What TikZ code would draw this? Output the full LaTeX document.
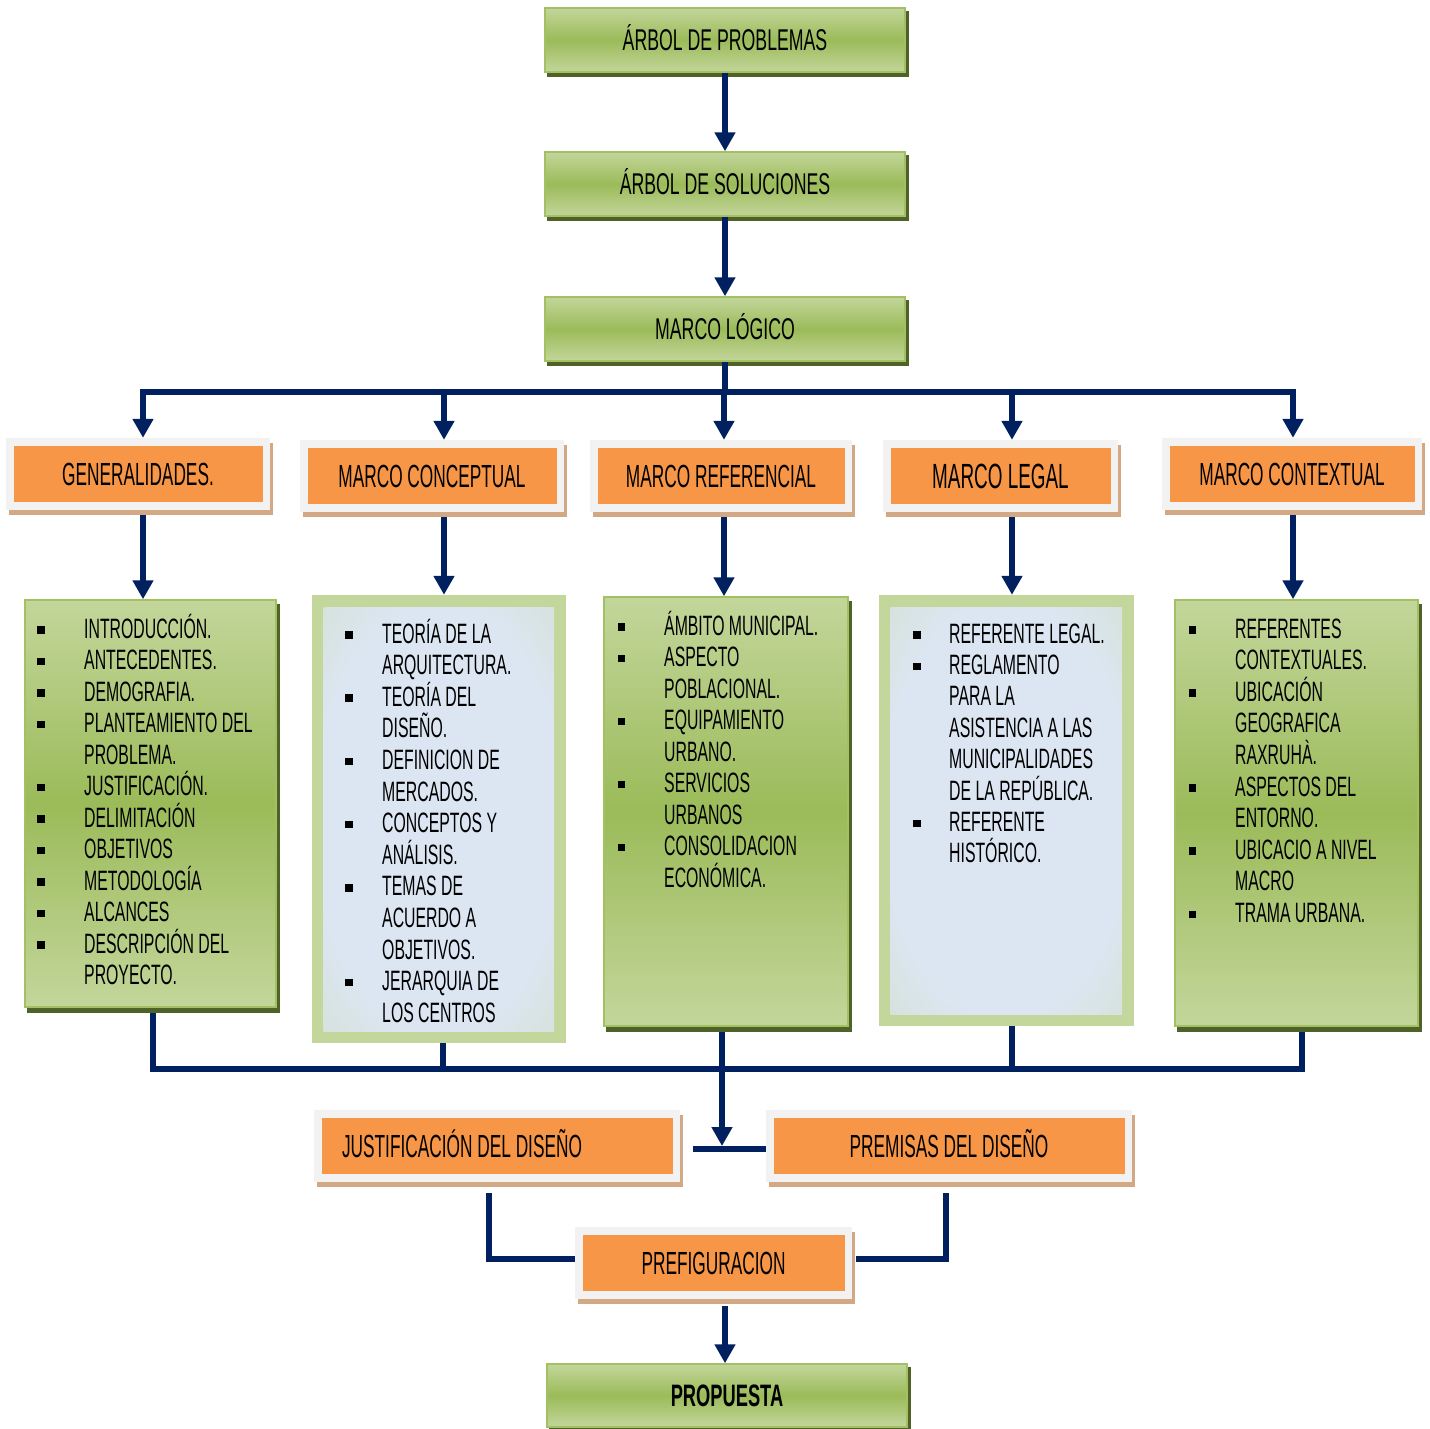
\documentclass[tikz,border=0pt]{standalone}
\usepackage{fontspec}
\setmainfont{Liberation Sans}
\newfontfamily\titlefont[FakeStretch=0.59]{Liberation Sans}
\newfontfamily\headfont[FakeStretch=0.54]{Liberation Sans}
\newfontfamily\listfont[FakeStretch=0.565]{Liberation Sans}
\usetikzlibrary{arrows.meta,backgrounds}

\definecolor{navy}{HTML}{002060}
\definecolor{orng}{HTML}{F79646}
\definecolor{framegray}{HTML}{F2F2F2}
\definecolor{tanshadow}{HTML}{D3A885}
\definecolor{glight}{HTML}{C3D69B}
\definecolor{gmid}{HTML}{9BBB59}
\definecolor{gedge}{HTML}{A3C163}
\definecolor{gdark}{HTML}{4F6228}
\definecolor{pale}{HTML}{DCE6F2}
\colorlet{palemix}{pale!50!glight}

\pgfdeclareradialshading{paleglow}{\pgfpointorigin}{%
  color(0bp)=(pale); color(24bp)=(pale); color(42bp)=(palemix); color(60bp)=(glight); color(71bp)=(glight)}

\tikzset{
  conn/.style={draw=navy, line width=6pt},
  arr/.style={conn, -{Triangle[width=20pt,length=19pt]}},
  greenbox/.style={draw=gedge, line width=1.5pt, top color=glight,
    bottom color=glight, middle color=gmid, inner sep=0pt},
  titlebox/.style={greenbox, minimum width=360pt, minimum height=64pt,
    font=\titlefont\fontsize{30pt}{33pt}\selectfont, text height=21.5pt, text depth=0pt},
  headbox/.style={fill=framegray, minimum width=#1, minimum height=72pt, inner sep=0pt,
    font=\headfont\fontsize{32pt}{36pt}\selectfont, text height=23pt, text depth=0pt,
    path picture={\fill[orng] ([shift={(7.5pt,-7.5pt)}]path picture bounding box.north west)
      rectangle ([shift={(-7.5pt,8pt)}]path picture bounding box.south east);}},
  palebox/.style={fill=glight, inner sep=0pt,
    path picture={\shade[shading=paleglow]
      ([shift={(11.5pt,-12pt)}]path picture bounding box.north west)
      rectangle ([shift={(-12pt,12pt)}]path picture bounding box.south east);}},
  item/.style={font=\listfont\fontsize{28pt}{30pt}\selectfont, inner sep=0pt, anchor=base west},
  bul/.style={fill=black, rectangle, minimum size=7.5pt, inner sep=0pt},
}

\begin{document}
\begin{tikzpicture}[x=1pt, y=-1pt]
\useasboundingbox (0,0) rectangle (1430,1429);

% upper chain
\node[titlebox] (t1) at (725,40)  {ÁRBOL DE PROBLEMAS};
\node[titlebox] (t2) at (725,184) {ÁRBOL DE SOLUCIONES};
\node[titlebox] (t3) at (725,329) {MARCO LÓGICO};

% five section headings
\node[headbox=264pt] (h1) at (138,474)   {GENERALIDADES.};
\node[headbox=264pt] (h2) at (432,476)   {MARCO CONCEPTUAL};
\node[headbox=262pt] (h3) at (721,476)   {MARCO REFERENCIAL};
\node[headbox=235pt, font=\headfont\fontsize{35pt}{38pt}\selectfont, text height=25pt] (h4) at (1000.5,476) {MARCO LEGAL};
\node[headbox=260pt] (h5) at (1292,474)  {MARCO CONTEXTUAL};

% content panels
\node[greenbox, minimum width=251pt, minimum height=407pt] (c1) at (150.5,803.5) {};
\node[palebox,  minimum width=254pt, minimum height=448pt] (c2) at (439,819) {};
\node[greenbox, minimum width=244pt, minimum height=429pt] (c3) at (726,811.5) {};
\node[palebox,  minimum width=255pt, minimum height=431pt] (c4) at (1006.5,810.5) {};
\node[greenbox, minimum width=243pt, minimum height=426pt] (c5) at (1296.5,813) {};

% lower part
\node[headbox=366pt] (j) at (497,1146) {\makebox[310pt][l]{JUSTIFICACIÓN DEL DISEÑO}};
\node[headbox=366pt] (p)  at (949,1146)   {PREMISAS DEL DISEÑO};
\node[headbox=277pt] (pf) at (713.5,1263) {PREFIGURACION};
\node[titlebox, minimum height=63pt, font=\titlefont\bfseries\fontsize{31pt}{33pt}\selectfont, text height=22pt] (prop) at (727,1395.5) {PROPUESTA};

% list contents
\foreach \itm/\flag [count=\i from 0] in {INTRODUCCIÓN./1,ANTECEDENTES./1,DEMOGRAFIA./1,
  PLANTEAMIENTO DEL/1,PROBLEMA./0,JUSTIFICACIÓN./1,DELIMITACIÓN/1,OBJETIVOS/1,
  METODOLOGÍA/1,ALCANCES/1,DESCRIPCIÓN DEL/1,PROYECTO./0}{
  \node[item] (ga\i) at (84,{638+31.5*\i}) {\itm};
  \ifnum\flag=1 \node[bul] (gb\i) at (41,{630+31.5*\i}) {};\fi
}
\foreach \itm/\flag [count=\i from 0] in {TEORÍA DE LA/1,ARQUITECTURA./0,TEORÍA DEL/1,
  DISEÑO./0,DEFINICION DE/1,MERCADOS./0,CONCEPTOS Y/1,ANÁLISIS./0,TEMAS DE/1,
  ACUERDO A/0,OBJETIVOS./0,JERARQUIA DE/1,LOS CENTROS/0}{
  \node[item] (ca\i) at (382,{643+31.6*\i}) {\itm};
  \ifnum\flag=1 \node[bul] (cb\i) at (349,{635+31.6*\i}) {};\fi
}
\foreach \itm/\flag [count=\i from 0] in {ÁMBITO MUNICIPAL./1,ASPECTO/1,POBLACIONAL./0,
  EQUIPAMIENTO/1,URBANO./0,SERVICIOS/1,URBANOS/0,CONSOLIDACION/1,ECONÓMICA./0}{
  \node[item] (ra\i) at (664,{635+31.5*\i}) {\itm};
  \ifnum\flag=1 \node[bul] (rb\i) at (621.5,{627+31.5*\i}) {};\fi
}
\foreach \itm/\flag [count=\i from 0] in {REFERENTE LEGAL./1,REGLAMENTO/1,PARA LA/0,
  ASISTENCIA A LAS/0,MUNICIPALIDADES/0,DE LA REPÚBLICA./0,REFERENTE/1,HISTÓRICO./0}{
  \node[item] (la\i) at (949,{643+31.4*\i}) {\itm};
  \ifnum\flag=1 \node[bul] (lb\i) at (917,{635+31.4*\i}) {};\fi
}
\foreach \itm/\flag [count=\i from 0] in {REFERENTES/1,CONTEXTUALES./0,UBICACIÓN/1,
  GEOGRAFICA/0,RAXRUHÀ./0,ASPECTOS DEL/1,ENTORNO./0,UBICACIO A NIVEL/1,MACRO/0,TRAMA URBANA./1}{
  \node[item] (xa\i) at (1235,{638+31.6*\i}) {\itm};
  \ifnum\flag=1 \node[bul] (xb\i) at (1192.5,{630+31.6*\i}) {};\fi
}

% connectors: upper chain and top distribution bus
\draw[arr] (t1) -- (t2);
\draw[arr] (t2) -- (t3);
\coordinate (bm) at (725,392);
\coordinate (b1) at (143,392);
\coordinate (b2) at (444,392);
\coordinate (b3) at (724,392);
\coordinate (b4) at (1012,392);
\coordinate (b5) at (1293,392);
\draw[conn] (t3) -- (bm);
\draw[conn, line cap=rect] (b1) -- (b5);
\foreach \k in {1,...,5}{
  \draw[arr] (b\k) -- (b\k |- h\k.north);
  \draw[arr] ([yshift=-5pt]h\k.south -| b\k) -- (b\k |- c\k.north);
}

% connectors: lower collecting bus
\coordinate (d1) at (153,1069);
\coordinate (d2) at (443,1069);
\coordinate (dm) at (722,1069);
\coordinate (d4) at (1012,1069);
\coordinate (d5) at (1302,1069);
\coordinate (jb) at (722,1149);
\draw[conn] ([yshift=-5pt]c1.south -| d1) -- (d1);
\draw[conn] (c2.south -| d2) -- (d2);
\draw[conn] (c4.south -| d4) -- (d4);
\draw[conn] ([yshift=-5pt]c5.south -| d5) -- (d5);
\draw[conn, line cap=rect] (d1) -- (d5);
\draw[arr] ([yshift=-5pt]c3.south -| dm) -- ([yshift=3pt]jb);
\draw[conn] ([xshift=13pt]j.east |- jb) -- (p.west |- jb);

% connectors: design boxes into prefiguration, then proposal
\coordinate (lj) at (489,1259);
\coordinate (lp) at (946,1259);
\draw[conn, line join=miter] ([yshift=-11pt]j.south -| lj) -- (lj) -- (pf.west |- lj);
\draw[conn, line join=miter] ([yshift=-11pt]p.south -| lp) -- (lp) -- ([xshift=4pt]pf.east |- lp);
\draw[arr] ([yshift=-7pt]pf.south -| t1) -- (prop.north -| t1);

% shadows behind the boxes
\begin{pgfonlayer}{background}
  \fill[white] (0,0) rectangle (1430,1429);
  \foreach \n in {t1,t2,t3,prop}
    \fill[gdark] ([shift={(3pt,-4pt)}]\n.south west) rectangle ([shift={(3pt,-4pt)}]\n.north east);
  \foreach \n in {c1,c3,c5}
    \fill[gdark] ([shift={(3pt,-5pt)}]\n.south west) rectangle ([shift={(3pt,-5pt)}]\n.north east);
  \foreach \n in {h1,h2,h3,h4,h5,j,p,pf}
    \fill[tanshadow] ([shift={(3pt,-5pt)}]\n.south west) rectangle ([shift={(3pt,-5pt)}]\n.north east);
\end{pgfonlayer}
\end{tikzpicture}
\end{document}
